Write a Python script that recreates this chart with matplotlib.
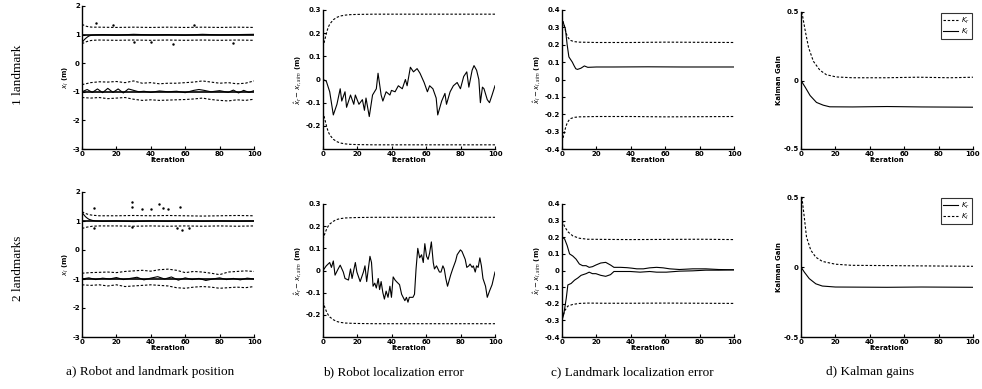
import matplotlib
matplotlib.use('Agg')
import matplotlib.pyplot as plt

# ---- panel a: robot and landmark position (x_l in m) ----
TRUE_ROBOT = 1.0
TRUE_LANDMARK = -1.0

a1_rob_it = [0, 1, 2, 3, 4, 5, 6, 8, 12, 20, 30, 40, 50, 60, 70, 80, 90, 100]
a1_rob_est = [0.72, 0.8, 0.86, 0.91, 0.95, 0.97, 0.98, 0.99, 1.0, 0.98, 1.01, 0.99, 1.0, 0.98, 1.01, 0.99, 1.0, 1.01]
a1_rob_bnd_it = [0, 2, 4, 6, 10, 20, 30, 40, 50, 60, 70, 80, 90, 100]
a1_rob_up = [1.36, 1.3, 1.27, 1.26, 1.26, 1.25, 1.26, 1.25, 1.26, 1.25, 1.26, 1.25, 1.26, 1.25]
a1_rob_lo = [0.68, 0.74, 0.78, 0.8, 0.81, 0.8, 0.81, 0.8, 0.81, 0.8, 0.81, 0.8, 0.81, 0.8]
a1_lm_it = [0, 3, 6, 9, 12, 15, 18, 21, 24, 27, 30, 33, 36, 40, 45, 50, 55, 60, 65, 68, 71, 75, 80, 85, 88, 91, 94, 97, 100]
a1_lm_est = [-1.0, -0.92, -1.02, -0.9, -1.03, -0.88, -1.02, -0.9, -1.04, -0.9, -0.95, -1.0, -0.98, -1.02, -0.97,
             -1.0, -0.98, -1.03, -0.95, -0.92, -0.95, -1.0, -0.96, -1.02, -0.94, -1.04, -0.95, -1.02, -0.96]
a1_lm_bnd_it = [0, 5, 10, 15, 20, 25, 30, 35, 40, 45, 50, 55, 60, 65, 70, 75, 80, 85, 90, 95, 100]
a1_lm_up = [-0.75, -0.68, -0.65, -0.66, -0.64, -0.68, -0.62, -0.7, -0.68, -0.72, -0.7, -0.7, -0.68, -0.66,
            -0.62, -0.66, -0.7, -0.68, -0.72, -0.7, -0.62]
a1_lm_lo = [-1.2, -1.22, -1.2, -1.24, -1.22, -1.2, -1.26, -1.3, -1.28, -1.3, -1.29, -1.28, -1.27, -1.25,
            -1.22, -1.27, -1.3, -1.32, -1.28, -1.3, -1.26]
a1_meas_it = [8, 30, 53, 65, 88, 40, 18]
a1_meas = [1.42, 0.74, 0.68, 1.35, 0.7, 0.75, 1.32]

a2_rob_it = [0, 1, 2, 3, 4, 6, 8, 12, 20, 30, 40, 50, 60, 70, 80, 90, 100]
a2_rob_est = [1.3, 1.22, 1.15, 1.1, 1.06, 1.02, 1.0, 0.99, 1.0, 0.98, 1.0, 0.99, 1.0, 0.99, 1.0, 0.99, 1.0]
a2_rob_bnd_it = [0, 2, 4, 6, 10, 20, 30, 40, 50, 60, 70, 80, 90, 100]
a2_rob_up = [1.32, 1.26, 1.22, 1.2, 1.18, 1.18, 1.19, 1.18, 1.19, 1.18, 1.17, 1.18, 1.19, 1.18]
a2_rob_lo = [0.74, 0.78, 0.8, 0.82, 0.83, 0.83, 0.82, 0.83, 0.82, 0.83, 0.82, 0.83, 0.82, 0.83]
a2_lm_it = [0, 4, 8, 12, 16, 20, 24, 28, 32, 36, 40, 44, 48, 52, 56, 60, 64, 68, 72, 76, 80, 84, 88, 92, 96, 100]
a2_lm_est = [-1.0, -0.96, -1.02, -0.97, -1.0, -0.95, -1.02, -0.98, -0.94, -1.03, -0.97, -0.92, -1.0, -0.93,
             -1.04, -0.96, -1.02, -0.98, -1.05, -1.0, -0.96, -1.02, -0.98, -1.03, -0.97, -1.0]
a2_lm_bnd_it = [0, 5, 10, 15, 20, 25, 30, 35, 40, 45, 50, 55, 60, 65, 70, 75, 80, 85, 90, 95, 100]
a2_lm_up = [-0.8, -0.78, -0.77, -0.76, -0.78, -0.74, -0.72, -0.7, -0.73, -0.68, -0.66, -0.7, -0.78, -0.74,
            -0.76, -0.8, -0.85, -0.76, -0.74, -0.72, -0.74]
a2_lm_lo = [-1.2, -1.22, -1.2, -1.24, -1.2, -1.26, -1.24, -1.22, -1.2, -1.22, -1.24, -1.3, -1.32, -1.28,
            -1.26, -1.28, -1.32, -1.3, -1.28, -1.3, -1.26]
a2_meas_it = [7, 29, 29, 35, 40, 45, 47, 50, 57, 55, 58, 62, 7, 29]
a2_meas = [1.45, 1.65, 1.5, 1.4, 1.42, 1.58, 1.45, 1.4, 1.5, 0.75, 0.7, 0.75, 0.75, 0.78]

# ---- panel b: robot localization error (m) ----
b_bnd_it = [0, 1, 2, 3, 4, 6, 8, 10, 13, 16, 20, 30, 50, 70, 100]
b1_bnd = [0.14, 0.17, 0.2, 0.225, 0.24, 0.258, 0.268, 0.274, 0.278, 0.28, 0.281, 0.282, 0.282, 0.282, 0.282]
b2_bnd = [0.14, 0.165, 0.185, 0.2, 0.21, 0.222, 0.23, 0.234, 0.237, 0.238, 0.239, 0.24, 0.24, 0.24, 0.24]

b1_it = [0, 1.9, 3.9, 6.0, 8.1, 10.0, 10.9, 12.8, 13.7, 16.0, 17.9, 18.8, 20.9, 22.9, 24.1, 25.0, 26.9, 28.8,
         31.0, 32.0, 33.8, 34.8, 36.7, 38.9, 39.8, 41.9, 43.8, 46.1, 47.9, 48.9, 50.8, 52.6, 54.7, 56.4, 58.8,
         60.7, 62.0, 63.9, 65.8, 66.7, 69.0, 70.9, 71.8, 73.9, 75.8, 78.0, 79.9, 81.8, 83.6, 84.8, 86.7, 87.8,
         89.3, 90.6, 91.5, 92.7, 93.6, 95.5, 96.8, 98.3, 100]
b1_err = [0, -0.007, -0.053, -0.153, -0.107, -0.04, -0.093, -0.053, -0.12, -0.067, -0.107, -0.067, -0.107,
          -0.087, -0.133, -0.08, -0.16, -0.067, -0.04, 0.027, -0.067, -0.093, -0.053, -0.067, -0.047, -0.053,
          -0.027, -0.04, 0.0, -0.027, 0.053, 0.033, 0.047, 0.027, -0.013, -0.053, -0.027, -0.04, -0.08, -0.153,
          -0.093, -0.06, -0.107, -0.053, -0.027, -0.013, -0.04, 0.013, 0.033, -0.033, 0.04, 0.06, 0.04, 0.0,
          -0.1, -0.033, -0.04, -0.087, -0.1, -0.067, -0.027]

b2_it = [0, 1.9, 3.9, 4.9, 6.0, 7.0, 8.8, 10.0, 11.8, 12.8, 14.8, 16.0, 16.9, 18.8, 19.7, 21.6, 23.5, 24.4,
         25.4, 27.3, 28.2, 29.1, 30.1, 31.0, 32.1, 32.9, 33.8, 34.8, 35.7, 36.7, 37.8, 38.9, 39.8, 40.8, 41.9,
         42.7, 44.5, 45.7, 46.6, 47.6, 48.5, 49.4, 50.2, 52.3, 53.2, 54.1, 55.1, 56.2, 57.3, 58.3, 59.2, 60.2,
         61.1, 62.0, 63.0, 64.1, 64.8, 66.0, 67.7, 68.6, 69.7, 70.5, 71.4, 72.4, 74.2, 75.4, 77.1, 78.0, 79.9,
         80.8, 82.7, 83.6, 84.8, 85.5, 86.7, 87.4, 88.5, 89.3, 90.2, 91.2, 92.1, 93.0, 94.5, 95.5, 96.8, 98.3, 100]
b2_err = [0, 0.021, 0.036, 0.014, 0.043, -0.021, 0.007, 0.024, -0.007, -0.036, -0.043, 0.007, -0.036, 0.036,
          -0.007, -0.05, -0.007, 0.021, -0.05, 0.064, 0.036, -0.071, -0.057, -0.079, -0.036, -0.086, -0.05,
          -0.1, -0.129, -0.093, -0.121, -0.071, -0.121, -0.029, -0.043, -0.05, -0.064, -0.107, -0.121, -0.136,
          -0.121, -0.143, -0.121, -0.121, -0.107, 0.007, 0.1, 0.057, 0.071, 0.036, 0.121, 0.064, 0.05, 0.079,
          0.129, 0.036, 0.007, 0.021, -0.007, -0.007, 0.021, 0.007, -0.036, -0.071, -0.021, 0.007, 0.043, 0.071,
          0.093, 0.086, 0.05, 0.014, 0.021, 0.029, 0.014, 0.021, -0.007, 0.021, 0.014, 0.057, 0.021, -0.036,
          -0.071, -0.121, -0.093, -0.064, -0.007]

# ---- panel c: landmark localization error (m) ----
c1_it = [0, 1, 2, 3, 4, 5, 6, 7, 8, 9, 11, 13, 15, 20, 30, 50, 70, 100]
c1_err = [0.33, 0.32, 0.29, 0.2, 0.13, 0.115, 0.1, 0.08, 0.062, 0.058, 0.065, 0.078, 0.07, 0.072, 0.072, 0.073,
          0.072, 0.072]
c1_bnd_it = [0, 1, 2, 3, 4, 5, 7, 10, 20, 40, 60, 80, 100]
c1_bnd = [0.36, 0.32, 0.28, 0.25, 0.235, 0.225, 0.218, 0.215, 0.213, 0.213, 0.215, 0.214, 0.213]

c2_up_it = [0, 1.5, 3, 4.4, 6.3, 8.2, 10.1, 12, 14, 15.8, 17.7, 19.7, 22.5, 25.4, 28.2, 30.2, 34, 37.8, 40.6,
            43.5, 47.3, 51, 55, 58.8, 62.6, 68.3, 76, 83.6, 91, 100]
c2_up = [0.2, 0.19, 0.15, 0.1, 0.087, 0.068, 0.039, 0.029, 0.029, 0.019, 0.023, 0.033, 0.045, 0.049, 0.033,
         0.019, 0.019, 0.017, 0.014, 0.01, 0.01, 0.016, 0.019, 0.016, 0.01, 0.006, 0.01, 0.01, 0.006, 0.004]
c2_lo_it = [0, 1.1, 2.5, 3.4, 5.3, 7.3, 9.2, 11.1, 14, 15.8, 17.7, 19.7, 22.5, 25.4, 28.2, 30.2, 34, 39.7,
            45.4, 51, 55, 60.7, 68.3, 76, 83.6, 91, 100]
c2_lo = [-0.3, -0.26, -0.165, -0.087, -0.078, -0.058, -0.045, -0.029, -0.019, -0.01, -0.019, -0.019, -0.029,
         -0.035, -0.025, -0.006, -0.006, -0.006, -0.01, -0.006, -0.01, -0.01, -0.004, -0.002, 0.002, 0.002, 0.004]
c2_bnd_it = [0, 1.5, 3.4, 6.3, 10.1, 14.9, 25, 40, 60, 80, 100]
c2_bnd_up = [0.3, 0.265, 0.233, 0.208, 0.194, 0.188, 0.187, 0.186, 0.187, 0.188, 0.186]
c2_bnd_lo = [-0.29, -0.243, -0.214, -0.204, -0.198, -0.196, -0.197, -0.197, -0.196, -0.197, -0.198]

# ---- panel d: Kalman gains ----
d1_up_it = [0.5, 2.5, 4.4, 7.2, 11, 14.8, 20.5, 30, 49, 68, 87, 100]
d1_up = [0.5, 0.36, 0.24, 0.14, 0.075, 0.042, 0.026, 0.02, 0.02, 0.024, 0.02, 0.024]
d1_lo_it = [0, 2.5, 5.3, 9, 12.9, 16.7, 30, 50, 70, 100]
d1_lo = [0, -0.05, -0.11, -0.16, -0.18, -0.192, -0.193, -0.19, -0.193, -0.195]
d2_up_it = [0.5, 1.9, 3.2, 5.7, 8.6, 12.4, 20, 29.5, 50, 70, 100]
d2_up = [0.5, 0.357, 0.214, 0.12, 0.07, 0.04, 0.02, 0.012, 0.01, 0.008, 0.005]
d2_lo_it = [0, 1.9, 4.8, 8.6, 12.4, 20, 50, 70, 100]
d2_lo = [0, -0.036, -0.083, -0.12, -0.136, -0.143, -0.145, -0.143, -0.145]

XTICKS = [0, 20, 40, 60, 80, 100]
CAPTIONS = ['a) Robot and landmark position', 'b) Robot localization error',
            'c) Landmark localization error', 'd) Kalman gains']
ROW_LABELS = ['1 landmark', '2 landmarks']

DASH = (0, (2.2, 1.6))
LW = 0.8
TICK_FONT = dict(family='DejaVu Sans', weight='bold', size=5)

fig = plt.figure(figsize=(9.82, 3.89), dpi=100)
W, H = 982.0, 389.0
col_left = [82, 323, 562, 801]
col_width = 172
row_top = [[6, 10, 10, 12], [192, 204, 204, 197]]
row_bottom = [149, 337]


def make_ax(r, c):
    top = row_top[r][c]
    bot = row_bottom[r]
    ax = fig.add_axes([col_left[c] / W, 1 - bot / H, col_width / W, (bot - top) / H])
    for s in ['top', 'right']:
        ax.spines[s].set_visible(False)
    for s in ['left', 'bottom']:
        ax.spines[s].set_linewidth(1.0)
    ax.set_xlim(0, 100)
    ax.set_xticks(XTICKS)
    ax.tick_params(direction='in', length=2.5, width=0.8, pad=1.5)
    ax.set_xlabel('Iteration', fontdict=TICK_FONT, labelpad=0)
    return ax


def fix_ticks(ax, yticks, ylabels):
    ax.set_yticks(yticks)
    ax.set_yticklabels(ylabels)
    ax.set_xticklabels([str(t) for t in XTICKS])
    for lab in ax.get_xticklabels() + ax.get_yticklabels():
        lab.set_fontproperties(TICK_FONT)


panel_a = [
    (a1_rob_it, a1_rob_est, a1_rob_bnd_it, a1_rob_up, a1_rob_lo, a1_lm_it, a1_lm_est, a1_lm_bnd_it, a1_lm_up,
     a1_lm_lo, a1_meas_it, a1_meas),
    (a2_rob_it, a2_rob_est, a2_rob_bnd_it, a2_rob_up, a2_rob_lo, a2_lm_it, a2_lm_est, a2_lm_bnd_it, a2_lm_up,
     a2_lm_lo, a2_meas_it, a2_meas),
]

for r in range(2):
    (rit, rest, rbit, rup, rlo, lit, lest, lbit, lup, llo, mit, mval) = panel_a[r]

    # a) positions
    ax = make_ax(r, 0)
    ax.axhline(TRUE_ROBOT, color='black', lw=1.2)
    ax.axhline(TRUE_LANDMARK, color='black', lw=1.2)
    ax.plot(rit, rest, color='black', lw=LW)
    ax.plot(rbit, rup, color='black', lw=LW, ls=DASH)
    ax.plot(rbit, rlo, color='black', lw=LW, ls=DASH)
    ax.plot(lit, lest, color='black', lw=LW)
    ax.plot(lbit, lup, color='black', lw=LW, ls=DASH)
    ax.plot(lbit, llo, color='black', lw=LW, ls=DASH)
    ax.plot(mit, mval, ls='none', marker='.', ms=1.5, color='black')
    ax.set_ylim(-3, 2)
    fix_ticks(ax, [-3, -2, -1, 0, 1, 2], ['-3', '-2', '-1', '0', '1', '2'])
    ax.set_ylabel(r'$x_l$ (m)', fontdict=TICK_FONT, labelpad=1)

    # b) robot error
    ax = make_ax(r, 1)
    bit, berr = (b1_it, b1_err) if r == 0 else (b2_it, b2_err)
    bb = b1_bnd if r == 0 else b2_bnd
    ax.plot(bit, berr, color='black', lw=LW)
    ax.plot(b_bnd_it, bb, color='black', lw=LW, ls=DASH)
    ax.plot(b_bnd_it, [-v for v in bb], color='black', lw=LW, ls=DASH)
    ax.set_ylim(-0.3, 0.3)
    fix_ticks(ax, [-0.2, -0.1, 0, 0.1, 0.2, 0.3], ['-0.2', '-0.1', '0', '0.1', '0.2', '0.3'])
    ax.set_ylabel(r'$\hat{x}_r - x_{r,sim}$ (m)', fontdict=TICK_FONT, labelpad=1)

    # c) landmark error
    ax = make_ax(r, 2)
    if r == 0:
        ax.plot(c1_it, c1_err, color='black', lw=LW)
        ax.plot(c1_bnd_it, c1_bnd, color='black', lw=LW, ls=DASH)
        ax.plot(c1_bnd_it, [-v for v in c1_bnd], color='black', lw=LW, ls=DASH)
    else:
        ax.plot(c2_up_it, c2_up, color='black', lw=LW)
        ax.plot(c2_lo_it, c2_lo, color='black', lw=LW)
        ax.plot(c2_bnd_it, c2_bnd_up, color='black', lw=LW, ls=DASH)
        ax.plot(c2_bnd_it, c2_bnd_lo, color='black', lw=LW, ls=DASH)
    ax.set_ylim(-0.4, 0.4)
    fix_ticks(ax, [-0.4, -0.3, -0.2, -0.1, 0, 0.1, 0.2, 0.3, 0.4],
              ['-0.4', '-0.3', '-0.2', '-0.1', '0', '0.1', '0.2', '0.3', '0.4'])
    ax.set_ylabel(r'$\hat{x}_l - x_{l,sim}$ (m)', fontdict=TICK_FONT, labelpad=1)

    # d) Kalman gains
    ax = make_ax(r, 3)
    if r == 0:
        ax.plot(d1_up_it, d1_up, color='black', lw=LW, ls=DASH, label=r'$K_r$')
        ax.plot(d1_lo_it, d1_lo, color='black', lw=LW, label=r'$K_l$')
    else:
        ax.plot(d2_lo_it, d2_lo, color='black', lw=LW, label=r'$K_r$')
        ax.plot(d2_up_it, d2_up, color='black', lw=LW, ls=DASH, label=r'$K_l$')
    ax.set_ylim(-0.5, 0.5)
    fix_ticks(ax, [-0.5, 0, 0.5], ['-0.5', '0', '0.5'])
    ax.set_ylabel('Kalman Gain', fontdict=TICK_FONT, labelpad=1)
    leg = ax.legend(loc='upper right', fontsize=5, frameon=True, fancybox=False, handlelength=2.2,
                    borderpad=0.3, labelspacing=0.1, handletextpad=0.4, borderaxespad=0.2)
    leg.get_frame().set_edgecolor('black')
    leg.get_frame().set_linewidth(0.8)

# row labels and captions
row_centers = [75, 268]
for i, txt in enumerate(ROW_LABELS):
    fig.text(18 / W, 1 - row_centers[i] / H, txt, rotation=90, ha='center', va='center',
             family='Liberation Serif', fontsize=9.5)
cap_x = [150, 393, 632, 870]
for i, txt in enumerate(CAPTIONS):
    fig.text(cap_x[i] / W, 1 - 372 / H, txt, ha='center', va='center', family='Liberation Serif', fontsize=9.5)

fig.savefig('out.png', dpi=100)
